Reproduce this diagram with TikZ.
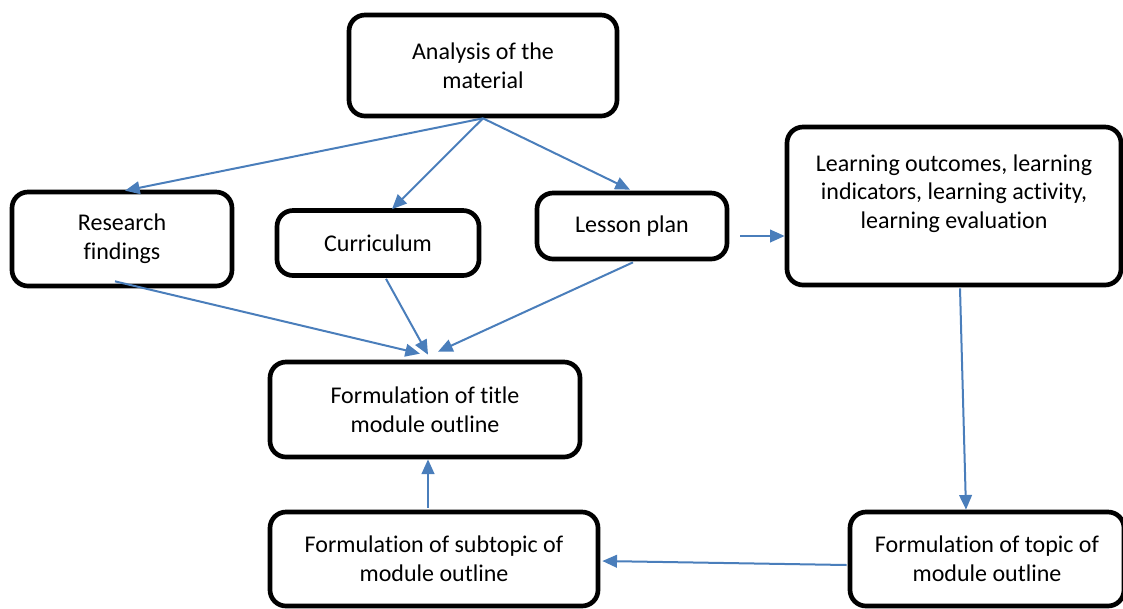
\documentclass[tikz,border=0pt]{standalone}
\usepackage{fontspec}
\setmainfont{Carlito}[Ligatures=NoCommon]
\usepackage{xcolor}
\usetikzlibrary{arrows.meta,calc}
\definecolor{arrowblue}{HTML}{4A7EBB}

\begin{document}
\begin{tikzpicture}[
    x=0.75pt, y=-0.75pt,
    mybox/.style={
    rectangle,
    rounded corners=12pt,
    draw=black,
    line width=3.5pt,
    fill=white,
    align=center,
    inner sep=0pt,
    font=\fontsize{18}{21.5}\selectfont},
    myarrow/.style={-{Triangle[length=11pt,width=9.5pt]},draw=arrowblue,line width=1.5pt}
    ]

    \useasboundingbox (0,0) rectangle (1123,608);
    \clip (0,0) rectangle (1123,608);

    \node[mybox, minimum width=201pt, minimum height=75.75pt] (analysis) at (483,65.5) {Analysis of the\\material};
    \node[mybox, minimum width=165pt, minimum height=70.5pt] (research) at (122,239) {Research\\findings};
    \node[mybox, minimum width=151.5pt, minimum height=48.75pt] (curric) at (378,243) {Curriculum};
    \node[mybox, minimum width=142.5pt, minimum height=49.5pt] (lesson) at (632,226) {Lesson plan};
    \node[mybox, minimum width=250.5pt, minimum height=118.5pt, text depth=22pt] (learn) at (954,206) {Learning outcomes, learning\\indicators, learning activity,\\learning evaluation};
    \node[mybox, minimum width=232.5pt, minimum height=71.25pt] (title) at (425,409.5) {Formulation of title\\module outline};
    \node[mybox, minimum width=246pt, minimum height=70.5pt] (subtopic) at (434,559) {Formulation of subtopic of\\module outline};
    \node[mybox, minimum width=205.5pt, minimum height=70.5pt] (topic) at (987,559) {Formulation of topic of\\module outline};

    \draw[myarrow] (analysis.south) -- ($(research.north)+(3,1)$);
    \draw[myarrow] (analysis.south) -- ($(curric.north)+(14,1)$);
    \draw[myarrow] (analysis.south) -- ($(lesson.north)+(-2,-1)$);
    \draw[myarrow] ($(lesson.east)+(11,10)$) -- ($(learn.west)+(0,30)$);
    \draw[myarrow] ($(learn.south)+(6,1)$) -- ($(topic.north)+(-21,0)$);
    \draw[myarrow] ($(topic.west)+(-1,6)$) -- ($(subtopic.east)+(2,2)$);
    \draw[myarrow] ($(subtopic.north)+(-6,-2)$) -- ($(title.south)+(3,0)$);
    \draw[myarrow] ($(research.south)+(-7,-7)$) -- ($(title.north)+(-5,-6)$);
    \draw[myarrow] ($(curric.south)+(8,1)$) -- ($(title.north)+(3,-5)$);
    \draw[myarrow] ($(lesson.south)+(1,1)$) -- ($(title.north)+(13,-8)$);
\end{tikzpicture}
\end{document}
